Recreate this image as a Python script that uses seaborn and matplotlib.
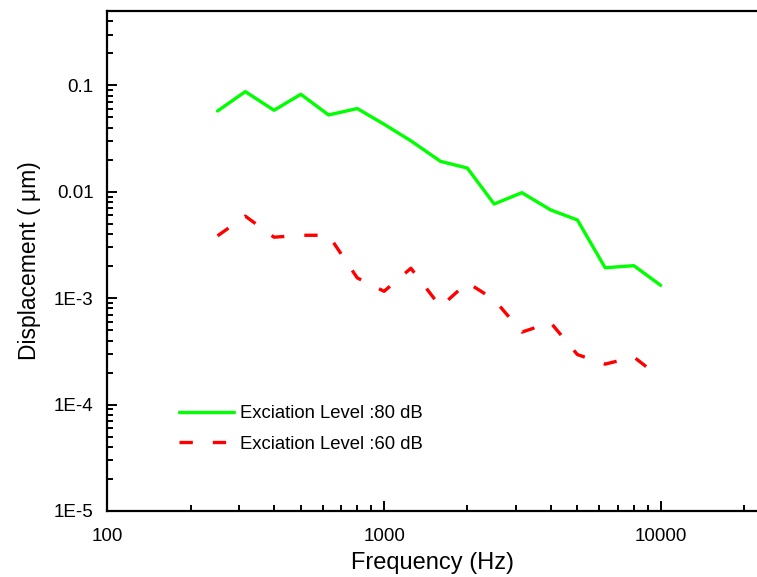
import pandas as pd
import numpy as np
import matplotlib
matplotlib.use("Agg")
import matplotlib.pyplot as plt
import matplotlib.ticker as mticker
import seaborn as sns

sns.set_style("ticks", {'axes.edgecolor': 'black', 'xtick.color': 'black',
                        'ytick.color': 'black', 'text.color': 'black',
                        'axes.labelcolor': 'black'})
plt.rcParams['font.family'] = ['Liberation Sans', 'DejaVu Sans']

# 1/3 octave centre frequencies (Hz)
freq = [250, 315, 400, 500, 630, 800, 1000, 1250, 1600, 2000,
        2500, 3150, 4000, 5000, 6300, 8000, 10000]
disp_80 = [0.0574, 0.0873, 0.0583, 0.0824, 0.0527, 0.0605, 0.0431, 0.0301, 0.0193,
           0.0167, 0.00767, 0.0098, 0.00675, 0.00543, 0.00193, 0.00202, 0.00132]
disp_60 = [0.00385, 0.0059, 0.00374, 0.0039, 0.0039, 0.00155, 0.00116, 0.00191, 0.00083,
           0.0014, 0.00097, 0.00048, 0.00059, 0.000295, 0.00024, 0.00028, 0.000178]
labels = ['Exciation Level :80 dB', 'Exciation Level :60 dB']

ytick_vals = [1e-5, 1e-4, 1e-3, 0.01, 0.1]
ytick_text = ['1E-5', '1E-4', '1E-3', '0.01', '0.1']
xtick_vals = [100, 1000, 10000]
xtick_text = ['100', '1000', '10000']

df = pd.concat([
    pd.DataFrame({'freq': freq, 'disp': disp_80, 'level': labels[0]}),
    pd.DataFrame({'freq': freq, 'disp': disp_60, 'level': labels[1]}),
])

fig = plt.figure(figsize=(7.57, 5.77), dpi=100)
ax = fig.add_axes([0.142, 0.1144, 0.858, 0.8666])

sns.lineplot(data=df, x='freq', y='disp', hue='level', style='level',
             palette={labels[0]: '#00ff00', labels[1]: '#ff0000'},
             dashes={labels[0]: '', labels[1]: (4, 6)},
             linewidth=2.4, ax=ax)

ax.set_xscale('log')
ax.set_yscale('log')
ax.set_xlim(100, 22300)
ax.set_ylim(1e-5, 0.5)

ax.yaxis.set_major_locator(mticker.FixedLocator(ytick_vals))
ax.yaxis.set_major_formatter(mticker.FixedFormatter(ytick_text))
ax.xaxis.set_major_locator(mticker.FixedLocator(xtick_vals))
ax.xaxis.set_major_formatter(mticker.FixedFormatter(xtick_text))
ax.yaxis.set_minor_locator(mticker.LogLocator(base=10, subs=np.arange(2, 10)))
ax.xaxis.set_minor_locator(mticker.LogLocator(base=10, subs=np.arange(2, 10)))
ax.xaxis.set_minor_formatter(mticker.NullFormatter())
ax.yaxis.set_minor_formatter(mticker.NullFormatter())

ax.tick_params(which='both', direction='in', width=1.4, labelsize=13.5,
               colors='black')
ax.tick_params(axis='y', which='major', length=7, pad=10)
ax.tick_params(axis='x', which='major', length=7, pad=12)
ax.tick_params(which='minor', length=4)

for s in ['left', 'bottom', 'top']:
    ax.spines[s].set_linewidth(1.6)
    ax.spines[s].set_color('black')
ax.spines['right'].set_visible(False)

ax.set_xlabel('Frequency (Hz)', fontsize=17, labelpad=5)
ax.set_ylabel('Displacement ( μm)', fontsize=16.5, labelpad=9)

leg = ax.legend(loc='upper left', bbox_to_anchor=(0.085, 0.245), frameon=False,
                fontsize=13.3, handlelength=2.95, handletextpad=0.33, labelspacing=0.75)
for h in leg.get_lines():
    h.set_linewidth(2.4)

fig.savefig('out.png', dpi=100)
